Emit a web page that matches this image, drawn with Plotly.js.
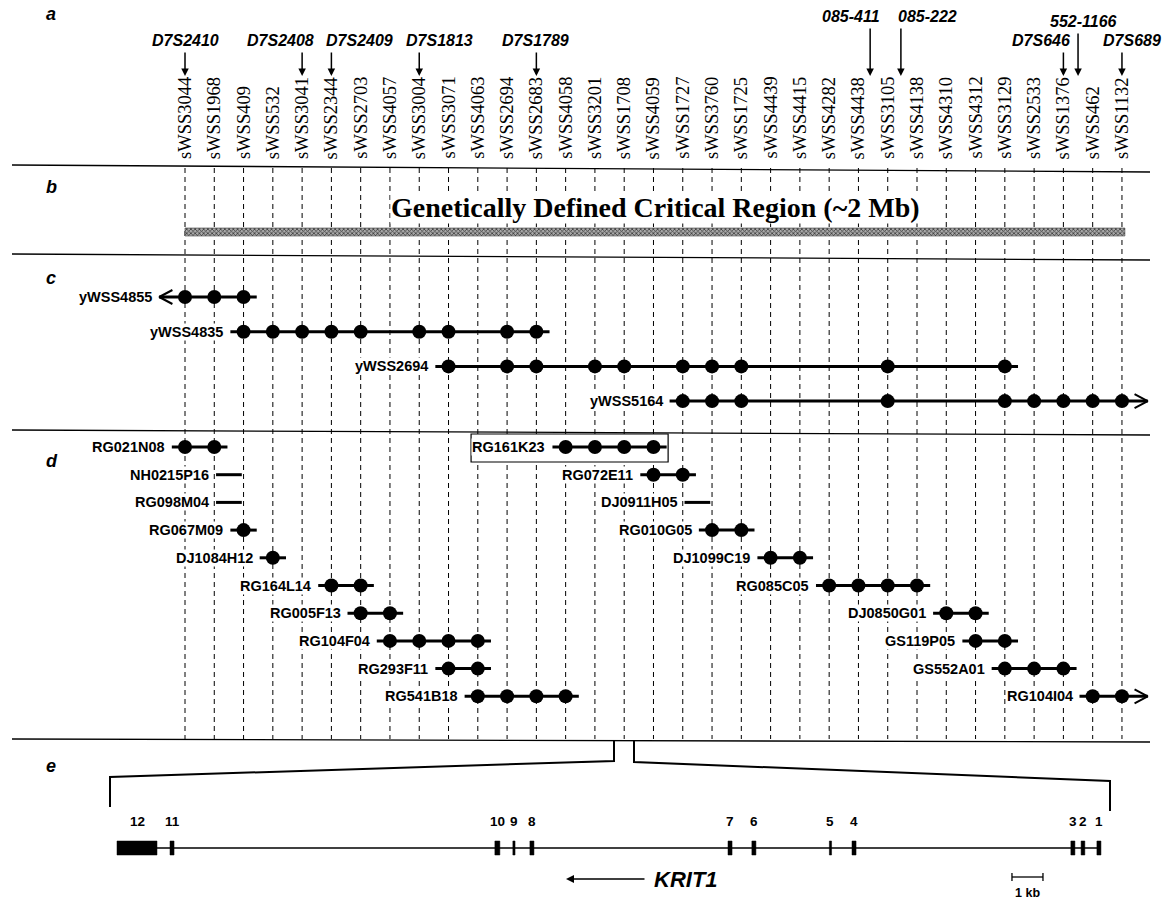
<!DOCTYPE html>
<html><head><meta charset="utf-8">
<script src="https://cdn.plot.ly/plotly-3.0.1.min.js"></script>
<style>html,body{margin:0;padding:0;background:#fff}#chart{width:1166px;height:901px}</style>
</head><body><div id="chart"></div>
<script>
// ================= DATA =================
const stsMarkers = ['sWSS3044','sWSS1968','sWSS409','sWSS532','sWSS3041','sWSS2344','sWSS2703','sWSS4057',
  'sWSS3004','sWSS3071','sWSS4063','sWSS2694','sWSS2683','sWSS4058','sWSS3201','sWSS1708','sWSS4059',
  'sWSS1727','sWSS3760','sWSS1725','sWSS4439','sWSS4415','sWSS4282','sWSS4438','sWSS3105','sWSS4138',
  'sWSS4310','sWSS4312','sWSS3129','sWSS2533','sWSS1376','sWSS462','sWSS1132'];
const polyNames = ['D7S2410','D7S2408','D7S2409','D7S1813','D7S1789','085-411','085-222','552-1166','D7S646','D7S689'];
const polyAt    = [1, 5, 6, 9, 13, 24.4, 25.45, 31.5, 31, 33];   // position on the STS map
const polyTier  = [1, 1, 1, 1, 1, 3, 3, 2, 1, 1];                // text row (1 = lowest)

const regionLabel = 'Genetically Defined Critical Region (~2 Mb)';
const regionSpan = [1, 33.1];

const yacNames = ['yWSS4855','yWSS4835','yWSS2694','yWSS5164'];
const yacHits  = [[1,2,3],[3,4,5,6,7,9,10,12,13],[10,12,13,15,16,18,19,20,25,29],[18,19,20,25,29,30,31,32,33]];
const yacOpen  = ['left','','','right'];

const bacLeftNames = ['RG021N08','NH0215P16','RG098M04','RG067M09','DJ1084H12','RG164L14','RG005F13','RG104F04','RG293F11','RG541B18'];
const bacLeftHits  = [[1,2],[],[],[3],[4],[6,7],[7,8],[8,9,10,11],[10,11],[11,12,13,14]];
const bacLeftBare  = [null,[2,3],[2,3],null,null,null,null,null,null,null];

const bacRightNames = ['RG161K23','RG072E11','DJ0911H05','RG010G05','DJ1099C19','RG085C05','DJ0850G01','GS119P05','GS552A01','RG104I04'];
const bacRightHits  = [[14,15,16,17],[17,18],[],[19,20],[21,22],[23,24,25,26],[27,28],[28,29],[29,30,31],[32,33]];
const bacRightBare  = [null,null,[18,19],null,null,null,null,null,null,null];
const bacRightOpen  = ['','','','','','','','','','right'];
const boxedClone = 'RG161K23';

const exonNames   = ['12','11','10','9','8','7','6','5','4','3','2','1'];
const exonStartKb = [0.00, 1.71, 12.19, 12.77, 13.32, 19.71, 20.48, 22.98, 23.71, 30.77, 31.10, 31.61];
const exonEndKb   = [1.29, 1.84, 12.35, 12.84, 13.45, 19.84, 20.61, 23.05, 23.84, 30.90, 31.22, 31.74];
const geneSpanKb  = [0, 31.72];
const geneName = 'KRIT1';
const scaleBarKb = [28.87, 29.87];
const scaleBarLabel = '1 kb';
const panelLetters = ['a','b','c','d','e'];

// ================= LAYOUT CONSTANTS =================
const W = 1166, H = 901;
const X0PX = 185, DXPX = 29.28;            // STS map scale
const KB0PX = 117, KBPX = 31;               // gene map scale
const xRange  = [1 - X0PX / DXPX, 1 + (W - X0PX) / DXPX];
const x2Range = [-KB0PX / KBPX, (W - KB0PX) / KBPX];
const P = px => px / W;

const polyTextY = {1: 40, 2: 21, 3: 16};
const polyTailY = {1: 51, 2: 32, 3: 27};
const polyTextShift = [0, -22, 28, 20, -1, -19, 27, 5, -22, 10];
const ARROW_TIP_Y = 76;
const STS_BOTTOM = 161;
const SEPS = [[165,172],[254,260],[430,435],[739,742]];
const DASH_TOP = 168, DASH_BOT = 739;
const REGION_TEXT_Y = 207, REGION_BAR_Y = 232, REGION_BAR_H = 8;
const YAC_Y0 = 297, YAC_DY = 34.7;
const BAC_Y0 = 447, BAC_DY = 27.7;
const EXT = 0.45, OPEN_EXT = 0.88;
const GENE_Y = 848, EXON_H = 14, EXON_LABEL_Y = 821;
const KRIT_Y = 879, SCALE_Y = 877, SCALE_LABEL_Y = 893;
const panelLetterY = [14, 187, 278, 461, 766];

const SANS = 'Liberation Sans, Arial, sans-serif';
const SERIF = 'Liberation Serif, Times New Roman, serif';

const traces = [], shapes = [], annotations = [];

// panel separators
SEPS.forEach(s => shapes.push({type:'line', xref:'paper', yref:'y', x0:P(12), x1:P(1150), y0:s[0], y1:s[1],
  line:{color:'#000', width:1.3}, layer:'below'}));

// dashed marker lines
stsMarkers.forEach((m, i) => shapes.push({type:'line', xref:'x', yref:'y', x0:i+1, x1:i+1, y0:DASH_TOP, y1:DASH_BOT,
  line:{color:'#000', width:1, dash:'5px,4px'}, layer:'below'}));

// panel letters
panelLetters.forEach((t, i) => annotations.push({xref:'paper', yref:'y', x:P(44), y:panelLetterY[i], text:'<b><i>'+t+'</i></b>',
  showarrow:false, font:{family:SANS, size:18, color:'#000'}}));

// STS labels (rotated)
stsMarkers.forEach((m, i) => annotations.push({xref:'x', yref:'y', x:i+1, y:STS_BOTTOM, text:m, textangle:-90,
  xanchor:'center', yanchor:'bottom', showarrow:false, font:{family:SERIF, size:18.5, color:'#000'}}));

// polymorphic markers
polyNames.forEach((n, i) => {
  annotations.push({xref:'x', yref:'y', x:polyAt[i], y:polyTextY[polyTier[i]], xshift:polyTextShift[i], text:'<b><i>'+n+'</i></b>',
    showarrow:false, font:{family:SANS, size:16, color:'#000'}});
  annotations.push({xref:'x', yref:'y', x:polyAt[i], y:ARROW_TIP_Y, axref:'x', ayref:'y', ax:polyAt[i], ay:polyTailY[polyTier[i]],
    text:'', showarrow:true, arrowhead:2, arrowsize:1, arrowwidth:1.5, arrowcolor:'#000'});
});

// critical region
traces.push({type:'bar', orientation:'h', base:[regionSpan[0]], x:[regionSpan[1]-regionSpan[0]], y:[REGION_BAR_Y], width:[REGION_BAR_H],
  marker:{color:'#8c8c8c', pattern:{shape:'x', size:3, solidity:0.45, fgcolor:'#3a3a3a', bgcolor:'#a8a8a8'}, line:{color:'#444', width:0.6}},
  hoverinfo:'skip'});
annotations.push({xref:'paper', yref:'y', x:P(655), y:REGION_TEXT_Y, text:'<b>'+regionLabel+'</b>', showarrow:false,
  bgcolor:'#fff', borderpad:0, font:{family:SERIF, size:28, color:'#000'}});

// clone drawing
function drawClone(name, hits, bare, open, y) {
  let x0, x1;
  if (hits.length) { x0 = hits[0] - EXT; x1 = hits[hits.length-1] + EXT; }
  else { x0 = bare[0] + 0.06; x1 = bare[1] - 0.06; }
  if (open === 'left')  x0 = hits[0] - OPEN_EXT;
  if (open === 'right') x1 = hits[hits.length-1] + OPEN_EXT;
  traces.push({x:[x0, x1], y:[y, y], mode:'lines', line:{color:'#000', width:3}, hoverinfo:'skip'});
  if (hits.length) traces.push({x:hits, y:hits.map(() => y), mode:'markers', marker:{size:14, color:'#000'}, hoverinfo:'skip'});
  if (open === 'left')  traces.push({x:[x0+0.45, x0, x0+0.45], y:[y-7, y, y+7], mode:'lines', line:{color:'#000', width:2}, hoverinfo:'skip'});
  if (open === 'right') traces.push({x:[x1-0.45, x1, x1-0.45], y:[y-7, y, y+7], mode:'lines', line:{color:'#000', width:2}, hoverinfo:'skip'});
  annotations.push({xref:'x', yref:'y', x:x0, y:y, xshift:-6, xanchor:'right', text:'<b>'+name+'</b>', showarrow:false,
    bgcolor:'#fff', borderpad:0, font:{family:SANS, size:14.5, color:'#000'}});
  return [x0, x1];
}

yacNames.forEach((n, i) => drawClone(n, yacHits[i], null, yacOpen[i], YAC_Y0 + i*YAC_DY));
bacLeftNames.forEach((n, i) => drawClone(n, bacLeftHits[i], bacLeftBare[i], '', BAC_Y0 + i*BAC_DY));
bacRightNames.forEach((n, i) => {
  const y = BAC_Y0 + i*BAC_DY;
  const ext = drawClone(n, bacRightHits[i], bacRightBare[i], bacRightOpen[i], y);
  if (n === boxedClone) {
    shapes.push({type:'rect', xref:'x', yref:'y', x0:ext[0]-2.78, x1:ext[1]+0.05, y0:y-13, y1:y+15,
      line:{color:'#000', width:1.2}, fillcolor:'#fff', layer:'below'});
  }
});

// ---- gene structure (panel e) ----
traces.push({x:geneSpanKb, y:[GENE_Y, GENE_Y], xaxis:'x2', yaxis:'y', mode:'lines', line:{color:'#000', width:1.5}, hoverinfo:'skip'});
exonNames.forEach((n, i) => {
  shapes.push({type:'rect', xref:'x2', yref:'y', x0:exonStartKb[i], x1:exonEndKb[i], y0:GENE_Y-EXON_H/2, y1:GENE_Y+EXON_H/2,
    fillcolor:'#000', line:{color:'#000', width:0.5}});
  annotations.push({xref:'x2', yref:'y', x:(exonStartKb[i]+exonEndKb[i])/2, y:EXON_LABEL_Y, text:'<b>'+n+'</b>', showarrow:false,
    font:{family:SANS, size:13.5, color:'#000'}});
});
// zoom bracket
shapes.push({type:'path', xref:'paper', yref:'y', path:`M${P(110)},807 L${P(110)},777 L${P(614)},761 L${P(614)},741`,
  line:{color:'#000', width:2}});
shapes.push({type:'path', xref:'paper', yref:'y', path:`M${P(634)},741 L${P(634)},762 L${P(1110)},781 L${P(1110)},811`,
  line:{color:'#000', width:2}});
// gene direction
annotations.push({xref:'x2', yref:'y', x:(566-KB0PX)/KBPX, y:KRIT_Y, axref:'x2', ayref:'y', ax:(646-KB0PX)/KBPX, ay:KRIT_Y,
  text:'', showarrow:true, arrowhead:2, arrowsize:1, arrowwidth:1.6, arrowcolor:'#000'});
annotations.push({xref:'x2', yref:'y', x:(652-KB0PX)/KBPX, y:KRIT_Y, xanchor:'left', text:'<b><i>'+geneName+'</i></b>', showarrow:false,
  font:{family:SANS, size:22, color:'#000'}});
// scale bar
shapes.push({type:'line', xref:'x2', yref:'y', x0:scaleBarKb[0], x1:scaleBarKb[1], y0:SCALE_Y, y1:SCALE_Y, line:{color:'#000', width:1.3}});
scaleBarKb.forEach(k => shapes.push({type:'line', xref:'x2', yref:'y', x0:k, x1:k, y0:SCALE_Y-4, y1:SCALE_Y+4, line:{color:'#000', width:1.3}}));
annotations.push({xref:'x2', yref:'y', x:(scaleBarKb[0]+scaleBarKb[1])/2, y:SCALE_LABEL_Y, text:'<b>'+scaleBarLabel+'</b>', showarrow:false,
  font:{family:SANS, size:12.5, color:'#000'}});

const layout = {
  width:W, height:H, margin:{l:0, r:0, t:0, b:0}, showlegend:false,
  paper_bgcolor:'#fff', plot_bgcolor:'#fff',
  xaxis:{range:xRange, visible:false, fixedrange:true},
  xaxis2:{range:x2Range, visible:false, overlaying:'x', anchor:'y', fixedrange:true},
  yaxis:{range:[H, 0], visible:false, fixedrange:true},
  shapes, annotations, bargap:0
};
Plotly.newPlot('chart', traces, layout, {staticPlot:true, displayModeBar:false});
</script></body></html>
